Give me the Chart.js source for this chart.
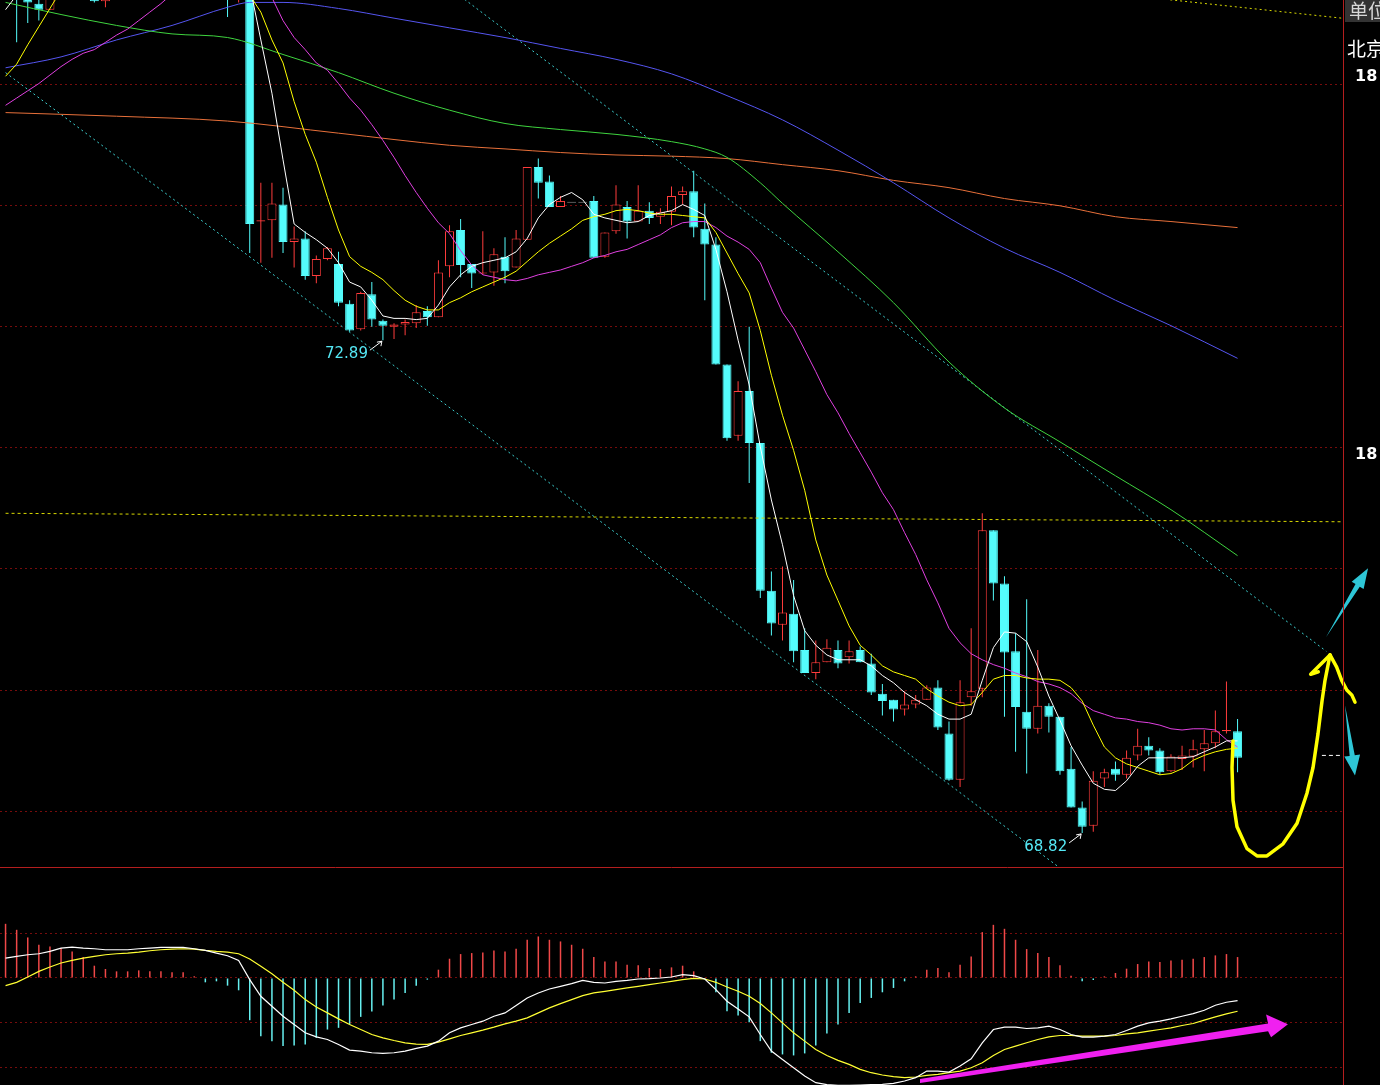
<!DOCTYPE html>
<html>
<head>
<meta charset="utf-8">
<script src="https://cdn.jsdelivr.net/npm/chart.js@4.4.1/dist/chart.umd.min.js"></script>
<style>
  html, body { margin: 0; padding: 0; background: #000; overflow: hidden; }
  #wrap { width: 1380px; height: 1085px; background: #000; }
  canvas { display: block; }
</style>
</head>
<body>
<div id="wrap">
  <canvas id="price" width="1380" height="868"></canvas>
  <canvas id="macd" width="1380" height="217"></canvas>
</div>
<script>
// ---- candles (index 0..111) ----
const opens = [76.10,76.00,76.00,75.67,75.62,76.00,76.20,76.10,76.30,75.69,
  76.00,76.30,76.60,76.50,76.80,76.70,76.90,77.00,76.80,76.90,
  76.70,76.20,76.60,73.87,73.88,74.01,73.70,73.73,73.42,73.56,
  73.52,73.19,72.98,73.27,73.05,73.00,73.02,73.03,73.13,73.08,
  73.50,73.80,73.52,73.44,73.45,73.58,73.49,73.72,74.32,74.20,
  73.99,74.03,74.03,74.04,73.58,73.79,73.99,73.87,73.96,73.91,
  73.95,74.09,74.12,73.81,73.68,72.69,72.10,72.47,72.04,70.82,
  70.54,70.63,70.33,70.14,70.23,70.33,70.27,70.33,70.22,69.97,
  69.92,69.84,69.88,69.92,70.02,69.64,69.26,69.94,70.01,71.32,
  70.88,70.32,69.82,69.68,69.87,69.78,69.35,69.03,68.88,69.27,
  69.35,69.30,69.46,69.54,69.50,69.33,69.43,69.45,69.51,69.56,
  69.66,69.66];
const highs = [76.30,76.20,76.10,75.85,76.00,76.30,76.40,76.40,76.35,76.10,
  76.40,76.70,76.80,76.90,77.00,77.10,77.20,77.20,77.10,77.00,
  76.90,76.50,76.80,74.19,74.19,74.15,73.83,73.79,73.59,73.66,
  73.62,73.22,73.29,73.37,73.06,73.03,73.06,73.18,73.17,73.55,
  73.84,73.89,73.52,73.79,73.65,73.74,73.80,74.32,74.39,74.25,
  74.08,74.03,74.03,74.08,73.78,74.17,74.04,74.17,74.03,73.98,
  74.16,74.16,74.29,74.02,73.74,72.69,72.55,73.00,72.04,70.98,
  71.02,70.91,70.51,70.41,70.42,70.41,70.41,70.36,70.30,70.05,
  69.92,69.99,69.96,70.04,70.08,69.74,70.08,70.51,71.46,71.32,
  70.94,70.47,70.75,70.33,69.89,69.78,69.53,69.08,69.33,69.35,
  69.41,69.50,69.68,69.61,69.52,69.47,69.54,69.59,69.67,69.83,
  70.07,69.76];
const lows = [75.80,75.35,75.51,75.53,75.62,75.90,75.95,76.00,75.68,75.64,
  75.90,76.20,76.30,76.40,76.50,76.60,76.70,76.60,76.60,76.50,
  75.56,75.68,73.61,73.53,73.57,73.61,73.49,73.39,73.36,73.55,
  73.17,72.96,72.97,73.00,72.89,72.90,72.93,72.99,73.01,73.08,
  73.41,73.41,73.32,73.43,73.34,73.36,73.49,73.72,74.06,73.99,
  73.99,74.03,74.03,73.57,73.57,73.77,73.73,73.87,73.85,73.85,
  73.84,74.01,73.74,73.22,72.69,72.06,72.06,71.71,70.76,70.45,
  70.41,70.23,70.14,70.09,70.23,70.18,70.22,70.23,69.96,69.79,
  69.74,69.79,69.85,69.92,69.67,69.25,69.20,69.87,69.94,70.74,
  69.78,69.49,69.31,69.64,69.65,69.30,69.03,68.82,68.83,69.20,
  69.25,69.27,69.42,69.46,69.30,69.32,69.34,69.36,69.33,69.52,
  69.64,69.32];
const closes = [75.90,75.80,75.68,75.62,75.95,76.20,76.10,76.30,75.69,76.00,
  76.30,76.60,76.50,76.80,76.70,76.90,77.00,76.80,76.90,76.70,
  76.20,76.40,73.85,73.88,74.02,73.70,73.73,73.42,73.56,73.65,
  73.20,72.97,73.28,73.06,73.01,73.02,73.04,73.12,73.08,73.45,
  73.79,73.51,73.44,73.45,73.60,73.46,73.73,74.32,74.19,73.99,
  74.04,74.03,74.03,73.57,73.78,74.01,73.87,73.96,73.90,73.95,
  74.08,74.12,73.82,73.68,72.69,72.08,72.47,72.04,70.82,70.55,
  70.64,70.32,70.14,70.23,70.35,70.22,70.32,70.23,69.98,69.91,
  69.84,69.88,69.92,70.02,69.69,69.26,69.90,69.99,71.32,70.88,
  70.31,69.86,69.68,69.87,69.78,69.33,69.03,68.87,69.25,69.32,
  69.30,69.44,69.54,69.50,69.32,69.45,69.46,69.51,69.56,69.66,
  69.67,69.44];

// ---- moving averages ----
const ma5 = [75.62,75.74,75.85,75.95,76.00,76.05,76.10,76.15,76.15,76.10,
  76.15,76.30,76.45,76.60,76.70,76.75,76.80,76.85,76.80,76.70,
  76.60,76.45,75.82,75.37,74.93,74.38,73.85,73.78,73.72,73.65,
  73.53,73.37,73.33,73.22,73.09,73.07,73.07,73.06,73.07,73.18,
  73.33,73.43,73.50,73.53,73.55,73.57,73.62,73.73,73.90,74.01,
  74.07,74.11,74.05,73.93,73.90,73.88,73.86,73.87,73.92,73.94,
  73.96,74.01,73.97,73.92,73.64,73.29,72.89,72.52,72.01,71.57,
  71.20,70.78,70.49,70.37,70.29,70.25,70.25,70.25,70.20,70.12,
  70.06,69.98,69.92,69.87,69.80,69.76,69.76,69.80,70.08,70.35,
  70.48,70.47,70.40,70.19,69.95,69.75,69.54,69.38,69.23,69.18,
  69.17,69.25,69.37,69.44,69.44,69.44,69.44,69.45,69.49,69.53,
  69.58,69.58];
const ma10 = [75.07,75.17,75.33,75.48,75.63,75.78,75.85,75.90,76.00,76.05,
  76.10,76.15,76.20,76.30,76.35,76.40,76.50,76.55,76.60,76.60,
  76.55,76.50,75.74,75.60,75.37,75.18,74.86,74.59,74.36,74.07,
  73.80,73.58,73.50,73.45,73.39,73.30,73.22,73.17,73.14,73.14,
  73.20,73.24,73.29,73.33,73.37,73.41,73.46,73.54,73.62,73.69,
  73.75,73.81,73.88,73.91,73.93,73.96,73.97,73.96,73.94,73.93,
  73.93,73.92,73.91,73.90,73.78,73.61,73.44,73.28,72.97,72.60,
  72.27,71.98,71.65,71.24,70.95,70.74,70.53,70.37,70.29,70.20,
  70.15,70.12,70.09,70.01,69.95,69.90,69.87,69.88,69.98,70.09,
  70.12,70.12,70.10,70.09,70.09,70.08,70.02,69.91,69.71,69.53,
  69.44,69.39,69.36,69.33,69.30,69.31,69.35,69.42,69.46,69.49,
  69.51,69.52];
const ma20 = [74.83,74.89,74.95,75.01,75.08,75.15,75.21,75.26,75.29,75.35,
  75.41,75.46,75.53,75.60,75.67,75.75,75.82,75.88,75.92,75.95,
  75.96,75.95,75.90,75.82,75.72,75.53,75.39,75.29,75.18,75.12,
  75.01,74.89,74.79,74.67,74.54,74.40,74.25,74.11,73.98,73.86,
  73.77,73.63,73.51,73.43,73.41,73.39,73.38,73.40,73.43,73.45,
  73.47,73.50,73.53,73.57,73.59,73.62,73.64,73.68,73.72,73.76,
  73.82,73.86,73.87,73.87,73.82,73.75,73.70,73.64,73.53,73.32,
  73.12,72.99,72.81,72.63,72.44,72.29,72.12,71.96,71.80,71.63,
  71.49,71.30,71.12,70.91,70.72,70.51,70.39,70.30,70.25,70.21,
  70.18,70.14,70.11,70.07,70.05,70.02,69.97,69.89,69.83,69.80,
  69.77,69.76,69.74,69.73,69.71,69.68,69.67,69.68,69.68,69.67,
  69.59,69.53];
const ma60At = [0,5,10,15,20,25,30,35,40,45,50,55,60,63,65,68,70,75,80,85,90,95,100,105,111];
const ma60 = [75.68,75.58,75.49,75.42,75.39,75.25,75.10,74.93,74.79,74.68,74.63,74.59,74.53,74.47,74.40,74.19,74.02,73.62,73.20,72.71,72.33,72.05,71.77,71.49,71.11];
const ma120At = [0,5,10,15,20,22,25,30,35,40,45,50,55,60,65,70,75,80,85,90,95,100,105,111];
const ma120 = [75.14,75.23,75.37,75.49,75.64,75.68,75.68,75.63,75.55,75.47,75.39,75.30,75.21,75.09,74.91,74.71,74.46,74.19,73.90,73.65,73.45,73.22,73.01,72.74];
const ma250At = [0,10,20,30,40,45,50,55,60,65,70,75,80,85,90,95,100,105,111];
const ma250 = [74.77,74.74,74.70,74.60,74.50,74.47,74.44,74.42,74.41,74.39,74.34,74.29,74.21,74.15,74.06,74.00,73.91,73.87,73.82];

// ---- drawn lines: [index, price] ----
const channelLow = [[0, 75.10], [95, 68.53]];
const channelHigh = [[41, 75.73], [119, 70.32]];
const yellowLevel = [[0, 71.46], [120.4, 71.39]];
const topLine = [[100, 75.75], [120.4, 75.55]];
const lastMark = [[118.6, 69.46], [120.4, 69.46]];
const priceTicks = [69, 70, 71, 72, 73, 74, 75];
const lowMarks = [34, 97];

// ---- hand drawn marks: [index, price] ----
const penCurve = [[110.59,69.58],[110.50,69.36],[110.59,69.09],[110.95,68.87],[111.85,68.69],
  [112.75,68.63],[113.65,68.63],[115.10,68.73],[116.36,68.90],[117.26,69.15],[117.80,69.36],
  [118.25,69.64],[118.61,69.91],[118.88,70.08],[119.33,70.29]];
const penLeftBarb = [[119.33,70.29],[117.59,70.13],[118.27,70.15]];
const penRightBarb = [[119.33,70.29],[119.93,70.19],[120.38,70.08],[120.84,70.00],[121.29,69.96],[121.58,69.90]];
const arrowUp = [[118.97,70.436],[122.01,70.854],[122.36,70.835],[122.76,71.006],[121.28,70.894],[121.63,70.875]];
const arrowDown = [[120.68,69.874],[121.56,69.462],[122.04,69.468],[121.58,69.295],[120.62,69.450],[121.10,69.455]];

// ---- MACD ----
const macdHist = [0.163,0.145,0.122,0.100,0.095,0.090,0.080,0.063,0.037,0.027,
  0.020,0.020,0.023,0.020,0.020,0.017,0.017,0.005,-0.013,-0.010,
  -0.023,-0.037,-0.127,-0.175,-0.190,-0.205,-0.203,-0.200,-0.180,-0.155,
  -0.150,-0.140,-0.117,-0.101,-0.083,-0.065,-0.045,-0.023,-0.005,0.025,
  0.058,0.072,0.075,0.077,0.083,0.080,0.088,0.115,0.125,0.115,
  0.110,0.100,0.088,0.063,0.050,0.050,0.040,0.038,0.030,0.027,
  0.032,0.037,0.020,-0.003,-0.043,-0.100,-0.113,-0.133,-0.190,-0.225,
  -0.230,-0.233,-0.227,-0.203,-0.167,-0.140,-0.105,-0.075,-0.060,-0.043,
  -0.030,-0.010,0.005,0.025,0.030,0.017,0.040,0.065,0.138,0.160,
  0.148,0.115,0.087,0.075,0.063,0.038,0.007,-0.010,-0.006,0.005,
  0.015,0.028,0.042,0.050,0.048,0.053,0.055,0.058,0.063,0.068,
  0.072,0.063];
const macdDif = [0.060,0.065,0.070,0.073,0.080,0.090,0.093,0.090,0.088,0.085,
  0.085,0.085,0.088,0.090,0.092,0.092,0.092,0.088,0.083,0.075,
  0.067,0.053,-0.005,-0.055,-0.085,-0.115,-0.140,-0.165,-0.177,-0.185,
  -0.200,-0.217,-0.220,-0.225,-0.227,-0.225,-0.220,-0.212,-0.205,-0.190,
  -0.165,-0.150,-0.140,-0.130,-0.115,-0.105,-0.083,-0.060,-0.045,-0.033,
  -0.025,-0.017,-0.007,-0.013,-0.015,-0.010,-0.007,-0.003,-0.002,0.000,
  0.003,0.010,0.007,-0.003,-0.035,-0.070,-0.093,-0.117,-0.170,-0.220,
  -0.245,-0.270,-0.295,-0.315,-0.321,-0.323,-0.323,-0.322,-0.321,-0.320,
  -0.317,-0.310,-0.300,-0.280,-0.280,-0.283,-0.265,-0.243,-0.195,-0.155,
  -0.148,-0.148,-0.152,-0.150,-0.145,-0.155,-0.170,-0.178,-0.178,-0.175,
  -0.170,-0.158,-0.145,-0.135,-0.130,-0.123,-0.115,-0.107,-0.097,-0.082,
  -0.073,-0.068];
const macdDea = [-0.023,-0.013,0.003,0.020,0.033,0.045,0.053,0.060,0.065,0.070,
  0.073,0.075,0.078,0.082,0.085,0.087,0.088,0.087,0.083,0.080,
  0.078,0.073,0.057,0.035,0.013,-0.013,-0.037,-0.065,-0.087,-0.105,
  -0.123,-0.140,-0.155,-0.170,-0.180,-0.188,-0.195,-0.199,-0.200,-0.193,
  -0.183,-0.173,-0.165,-0.157,-0.148,-0.138,-0.130,-0.120,-0.105,-0.090,
  -0.077,-0.065,-0.053,-0.045,-0.040,-0.035,-0.030,-0.025,-0.020,-0.015,
  -0.010,-0.005,-0.001,-0.003,-0.013,-0.027,-0.040,-0.055,-0.077,-0.105,
  -0.135,-0.165,-0.190,-0.215,-0.233,-0.248,-0.260,-0.275,-0.285,-0.292,
  -0.297,-0.300,-0.298,-0.293,-0.290,-0.285,-0.280,-0.270,-0.255,-0.233,
  -0.215,-0.205,-0.195,-0.185,-0.177,-0.173,-0.173,-0.175,-0.175,-0.175,
  -0.173,-0.168,-0.165,-0.160,-0.155,-0.150,-0.143,-0.137,-0.127,-0.117,
  -0.108,-0.100];
const macdTicks = [0.135, 0, -0.135, -0.27];
const macdArrow = [[82.39,-0.304],[113.75,-0.137],[113.57,-0.110],[115.54,-0.139],[114.02,-0.178],[113.75,-0.160],[82.39,-0.316]];

const CYAN = '#54fcfc', RED = '#ff3c3c', GRAY = '#8c8c8c';
const GRID = '#760c0c', FRAME = '#b41e1e';
const idx = opens.map((_, i) => i);
const dir = i => closes[i] > opens[i] ? RED : (closes[i] < opens[i] ? CYAN : GRAY);
const pts = (arr) => arr.map(([i, v]) => ({ x: i, y: v }));
const series = (at, vals) => vals.map((v, k) => ({ x: at ? at[k] : k, y: v }));

const xScale = { type: 'linear', min: -0.5, max: 120.5, display: false, offset: false, grid: { offset: false } };

function lineSet(data, color, extra) {
  return Object.assign({ type: 'line', data, borderColor: color, borderWidth: 1, pointRadius: 0,
    tension: 0, fill: false, order: 1 }, extra || {});
}

function path(ctx, x, y, list, close) {
  ctx.beginPath();
  list.forEach(([i, v], k) => {
    const px = x.getPixelForValue(i), py = y.getPixelForValue(v);
    if (k === 0) ctx.moveTo(px, py); else ctx.lineTo(px, py);
  });
  if (close) ctx.closePath();
}

const priceOverlay = {
  id: 'priceOverlay',
  afterDatasetsDraw(chart) {
    const { ctx, chartArea: a, scales: { x, y } } = chart;
    ctx.save();
    // lowest-price labels
    lowMarks.forEach(i => {
      const px = x.getPixelForValue(i), py = y.getPixelForValue(lows[i]);
      ctx.strokeStyle = '#ffffff';
      ctx.lineWidth = 1;
      ctx.beginPath();
      ctx.moveTo(px - 13, py + 10); ctx.lineTo(px - 1, py + 1);
      ctx.moveTo(px - 1, py + 1); ctx.lineTo(px - 6, py + 2);
      ctx.moveTo(px - 1, py + 1); ctx.lineTo(px - 2, py + 6);
      ctx.stroke();
      ctx.fillStyle = '#55e8f5';
      ctx.font = '15px "DejaVu Sans", sans-serif';
      ctx.textAlign = 'right';
      ctx.textBaseline = 'middle';
      ctx.fillText(lows[i].toFixed(2), px - 15, py + 14);
    });
    // yellow hand-drawn pen
    ctx.strokeStyle = '#ffff00';
    ctx.lineWidth = 3.5;
    ctx.lineJoin = 'round';
    ctx.lineCap = 'round';
    path(ctx, x, y, penCurve); ctx.stroke();
    path(ctx, x, y, penLeftBarb); ctx.stroke();
    path(ctx, x, y, penRightBarb); ctx.stroke();
    // cyan arrows
    ctx.fillStyle = '#2ec6d6';
    path(ctx, x, y, arrowUp, true); ctx.fill();
    path(ctx, x, y, arrowDown, true); ctx.fill();
    // frame
    ctx.strokeStyle = FRAME;
    ctx.lineWidth = 1;
    ctx.beginPath();
    ctx.moveTo(0, a.bottom - 0.5); ctx.lineTo(a.right, a.bottom - 0.5);
    ctx.moveTo(a.right + 0.5, 0); ctx.lineTo(a.right + 0.5, chart.height);
    ctx.stroke();
    // right side labels
    ctx.fillStyle = '#333333';
    ctx.fillRect(a.right + 2, 0, chart.width - a.right - 2, 22);
    ctx.textAlign = 'left';
    ctx.textBaseline = 'middle';
    ctx.font = '19px "Noto Sans CJK SC", sans-serif';
    ctx.fillStyle = '#d8d8d8';
    ctx.fillText('单位', a.right + 6, 11);
    ctx.fillStyle = '#ffffff';
    ctx.fillText('北京', a.right + 4, 49);
    ctx.font = 'bold 16px "DejaVu Sans", sans-serif';
    ctx.fillText('18', a.right + 12, 77);
    ctx.fillText('18', a.right + 12, 455);
    ctx.restore();
  }
};

new Chart(document.getElementById('price'), {
  type: 'bar',
  data: {
    datasets: [
      lineSet(ma5.map((v, i) => ({ x: i, y: v })), '#ffffff'),
      lineSet(ma10.map((v, i) => ({ x: i, y: v })), '#ffff00'),
      lineSet(ma20.map((v, i) => ({ x: i, y: v })), '#e040e0'),
      lineSet(series(ma60At, ma60), '#3fd43f', { cubicInterpolationMode: 'monotone' }),
      lineSet(series(ma120At, ma120), '#5555f0', { cubicInterpolationMode: 'monotone' }),
      lineSet(series(ma250At, ma250), '#e8703a', { cubicInterpolationMode: 'monotone' }),
      lineSet(pts(channelLow), '#3ccccc', { borderDash: [2, 3], order: 2 }),
      lineSet(pts(channelHigh), '#3ccccc', { borderDash: [2, 3], order: 2 }),
      lineSet(pts(yellowLevel), '#d8d800', { borderDash: [3, 3], order: 2 }),
      lineSet(pts(topLine), '#d8d800', { borderDash: [2, 3], order: 2 }),
      lineSet(pts(lastMark), '#ffffff', { borderDash: [4, 3], order: 2 }),
      {
        type: 'bar', order: 5, grouped: false,
        data: idx.map(i => {
          let lo = Math.min(opens[i], closes[i]), hi = Math.max(opens[i], closes[i]);
          if (hi - lo < 0.008) { lo -= 0.004; hi += 0.004; }
          return { x: i, y: [lo, hi] };
        }),
        backgroundColor: idx.map(i => dir(i) === RED ? '#000000' : dir(i)),
        borderColor: idx.map(dir),
        borderWidth: 1, borderSkipped: false, barThickness: 9, inflateAmount: 0
      },
      {
        type: 'bar', order: 6, grouped: false,
        data: idx.map(i => ({ x: i, y: [lows[i], highs[i]] })),
        backgroundColor: idx.map(dir),
        borderWidth: 0, barThickness: 1, inflateAmount: 0
      }
    ]
  },
  options: {
    responsive: false, animation: false, events: [],
    layout: { padding: { left: 0, right: 37, top: 0, bottom: 0 }, autoPadding: false },
    plugins: { legend: { display: false }, tooltip: { enabled: false } },
    scales: {
      x: xScale,
      y: {
        type: 'linear', position: 'right', min: 68.53, max: 75.70, beginAtZero: false,
        afterBuildTicks: s => { s.ticks = priceTicks.map(v => ({ value: v })); },
        ticks: { display: false },
        grid: { color: GRID, drawTicks: false, lineWidth: 1 },
        border: { display: false, dash: [2, 3] }
      }
    }
  },
  plugins: [priceOverlay]
});

const macdOverlay = {
  id: 'macdOverlay',
  afterDatasetsDraw(chart) {
    const { ctx, chartArea: a, scales: { x, y } } = chart;
    ctx.save();
    ctx.fillStyle = '#f020f0';
    path(ctx, x, y, macdArrow, true); ctx.fill();
    ctx.strokeStyle = FRAME;
    ctx.lineWidth = 1;
    ctx.beginPath();
    ctx.moveTo(a.right + 0.5, 0); ctx.lineTo(a.right + 0.5, chart.height);
    ctx.stroke();
    ctx.restore();
  }
};

new Chart(document.getElementById('macd'), {
  type: 'bar',
  data: {
    datasets: [
      lineSet(macdDif.map((v, i) => ({ x: i, y: v })), '#ffffff', { borderWidth: 1.2 }),
      lineSet(macdDea.map((v, i) => ({ x: i, y: v })), '#ffff33', { borderWidth: 1.2 }),
      {
        type: 'bar', order: 5, grouped: false,
        data: macdHist.map((v, i) => ({ x: i, y: v })),
        backgroundColor: macdHist.map(v => v >= 0 ? '#f04848' : '#66f0f0'),
        borderWidth: 0, barThickness: 1.5, inflateAmount: 0
      }
    ]
  },
  options: {
    responsive: false, animation: false, events: [],
    layout: { padding: { left: 0, right: 37, top: 0, bottom: 0 }, autoPadding: false },
    plugins: { legend: { display: false }, tooltip: { enabled: false } },
    scales: {
      x: xScale,
      y: {
        type: 'linear', position: 'right', min: -0.322, max: 0.331, beginAtZero: false,
        afterBuildTicks: s => { s.ticks = macdTicks.map(v => ({ value: v })); },
        ticks: { display: false },
        grid: { color: GRID, drawTicks: false, lineWidth: 1 },
        border: { display: false, dash: [2, 3] }
      }
    }
  },
  plugins: [macdOverlay]
});
</script>
</body>
</html>
